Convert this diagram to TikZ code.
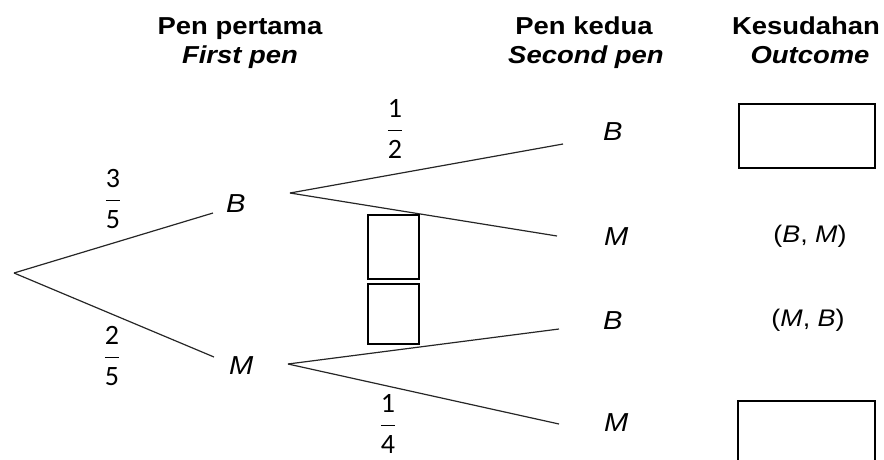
\documentclass[tikz,border=0pt]{standalone}
\usepackage{fontspec}
\usepackage{graphicx}
\setmainfont{Liberation Sans}
\newfontfamily\fracfont{Carlito}
\newcommand\sx[1]{\scalebox{1.12}[1]{#1}}
\newcommand\myfrac[2]{{\fracfont\fontsize{28}{30}\selectfont\setlength\arrayrulewidth{1.3pt}\renewcommand\arraystretch{0}%
\begin{tabular}{@{}c@{}}\rule[-12pt]{0pt}{19pt}#1\\\hline\rule{0pt}{27pt}#2\end{tabular}}}
\begin{document}
\begin{tikzpicture}[x=1pt,y=-1pt,
  head/.style={font=\bfseries\fontsize{24.5}{29}\selectfont, inner sep=0pt, anchor=base},
  lbl/.style={font=\itshape\fontsize{26}{30}\selectfont, inner sep=0pt, anchor=west},
  outc/.style={font=\fontsize{24}{28}\selectfont, inner sep=0pt},
  frc/.style={inner sep=0pt},
  branch/.style={line width=1.2pt, draw=black!85},
  blank/.style={draw=black, line width=1.3pt, inner sep=0pt}]
\useasboundingbox (0,0) rectangle (884,459);
% headings
\node[head] (h1a) at (240,34) {\sx{Pen pertama}};
\node[head] (h1b) at (240,63) {\sx{\itshape First pen}};
\node[head] (h2a) at (584,34) {\sx{Pen kedua}};
\node[head] (h2b) at (586,63) {\sx{\itshape Second pen}};
\node[head] (h3a) at (806,34) {\sx{Kesudahan}};
\node[head] (h3b) at (810,63) {\sx{\itshape Outcome}};
% branch points
\coordinate (root) at (14,273);
\coordinate (e1) at (213,213);
\coordinate (e2) at (214,357);
\coordinate (v1) at (290,193);
\coordinate (v2) at (288,364);
\coordinate (e11) at (563,144);
\coordinate (e12) at (557,236);
\coordinate (e21) at (559,329);
\coordinate (e22) at (559,424);
\draw[branch] (root) -- (e1);
\draw[branch] (root) -- (e2);
\draw[branch] (v1) -- (e11);
\draw[branch] (v1) -- (e12);
\draw[branch] (v2) -- (e21);
\draw[branch] (v2) -- (e22);
% labels
\node[lbl] (B1) at (226,204) {\sx{B}};
\node[lbl] (M1) at (229,366) {\sx{M}};
\node[lbl] (B11) at (603,132) {\sx{B}};
\node[lbl] (M12) at (604,237) {\sx{M}};
\node[lbl] (B21) at (603,321) {\sx{B}};
\node[lbl] (M22) at (604,423) {\sx{M}};
% fractions
\node[frc] (f1) at (113,199) {\myfrac{3}{5}};
\node[frc] (f2) at (112,356) {\myfrac{2}{5}};
\node[frc] (f3) at (395,129) {\myfrac{1}{2}};
\node[frc] (f4) at (388,424) {\myfrac{1}{4}};
% blank boxes
\node[blank, minimum width=51pt, minimum height=64pt] (bx1) at (393.5,247) {};
\node[blank, minimum width=51pt, minimum height=60pt] (bx2) at (393.5,314) {};
\node[blank, minimum width=136pt, minimum height=64pt] (o1) at (807,136) {};
\draw[line width=1.3pt] (738,466) -- (738,401) -- (875,401) -- (875,466);
% outcomes
\node[outc] (o2) at (810,236) {\sx{(\textit{B}, \textit{M})}};
\node[outc] (o3) at (808,320) {\sx{(\textit{M}, \textit{B})}};
\end{tikzpicture}
\end{document}
